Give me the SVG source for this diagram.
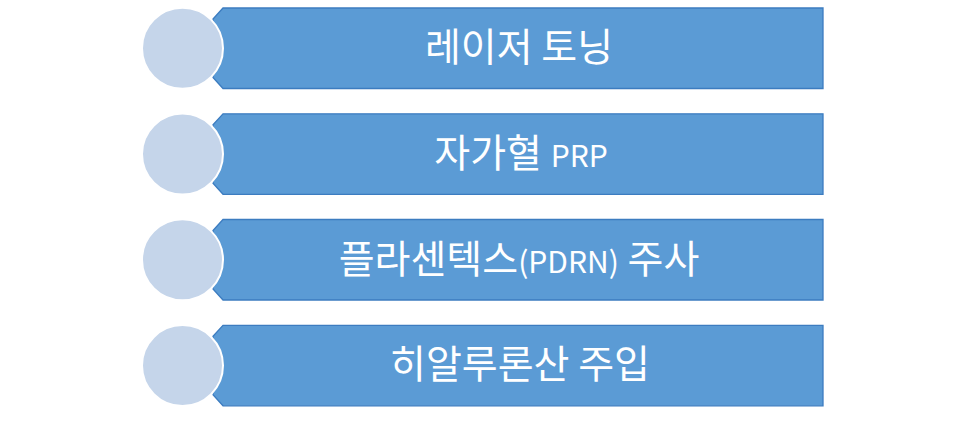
<svg xmlns="http://www.w3.org/2000/svg" xmlns:xlink="http://www.w3.org/1999/xlink" width="966" height="427" viewBox="0 0 966 427">
<style>
.banner{fill:#5B9BD5;stroke:#3C7CC0;stroke-width:1.3}
.dot{fill:#C5D5EA;stroke:#FFFFFF;stroke-width:2}
.lbl{font-family:"Noto Sans CJK KR","Noto Sans",sans-serif;font-size:39px;fill:#FFFFFF;text-anchor:middle}
.lat{font-size:30px}
</style>
<defs>
<path id="bn" d="M223,0 H823 V80.5 H223 L213,69.5 V11 Z"/>
<circle id="ci" cx="182.5" cy="40.3" r="40.5"/>
</defs>
<rect width="966" height="427" fill="#FFFFFF"/>
<g id="connectors"/>
<g id="node1" transform="translate(0,8)">
<use xlink:href="#bn" class="banner"/>
<use xlink:href="#ci" class="dot"/>
<text class="lbl" x="519" y="53">레이저 토닝</text>
</g>
<g id="node2" transform="translate(0,113.8)">
<use xlink:href="#bn" class="banner"/>
<use xlink:href="#ci" class="dot"/>
<text class="lbl" x="521" y="53">자가혈 <tspan class="lat">PRP</tspan></text>
</g>
<g id="node3" transform="translate(0,219.5)">
<use xlink:href="#bn" class="banner"/>
<use xlink:href="#ci" class="dot"/>
<text class="lbl" x="519" y="53">플라센텍스<tspan class="lat">(PDRN)</tspan> 주사</text>
</g>
<g id="node4" transform="translate(0,325.3)">
<use xlink:href="#bn" class="banner"/>
<use xlink:href="#ci" class="dot"/>
<text class="lbl" x="520" y="53">히알루론산 주입</text>
</g>
</svg>
